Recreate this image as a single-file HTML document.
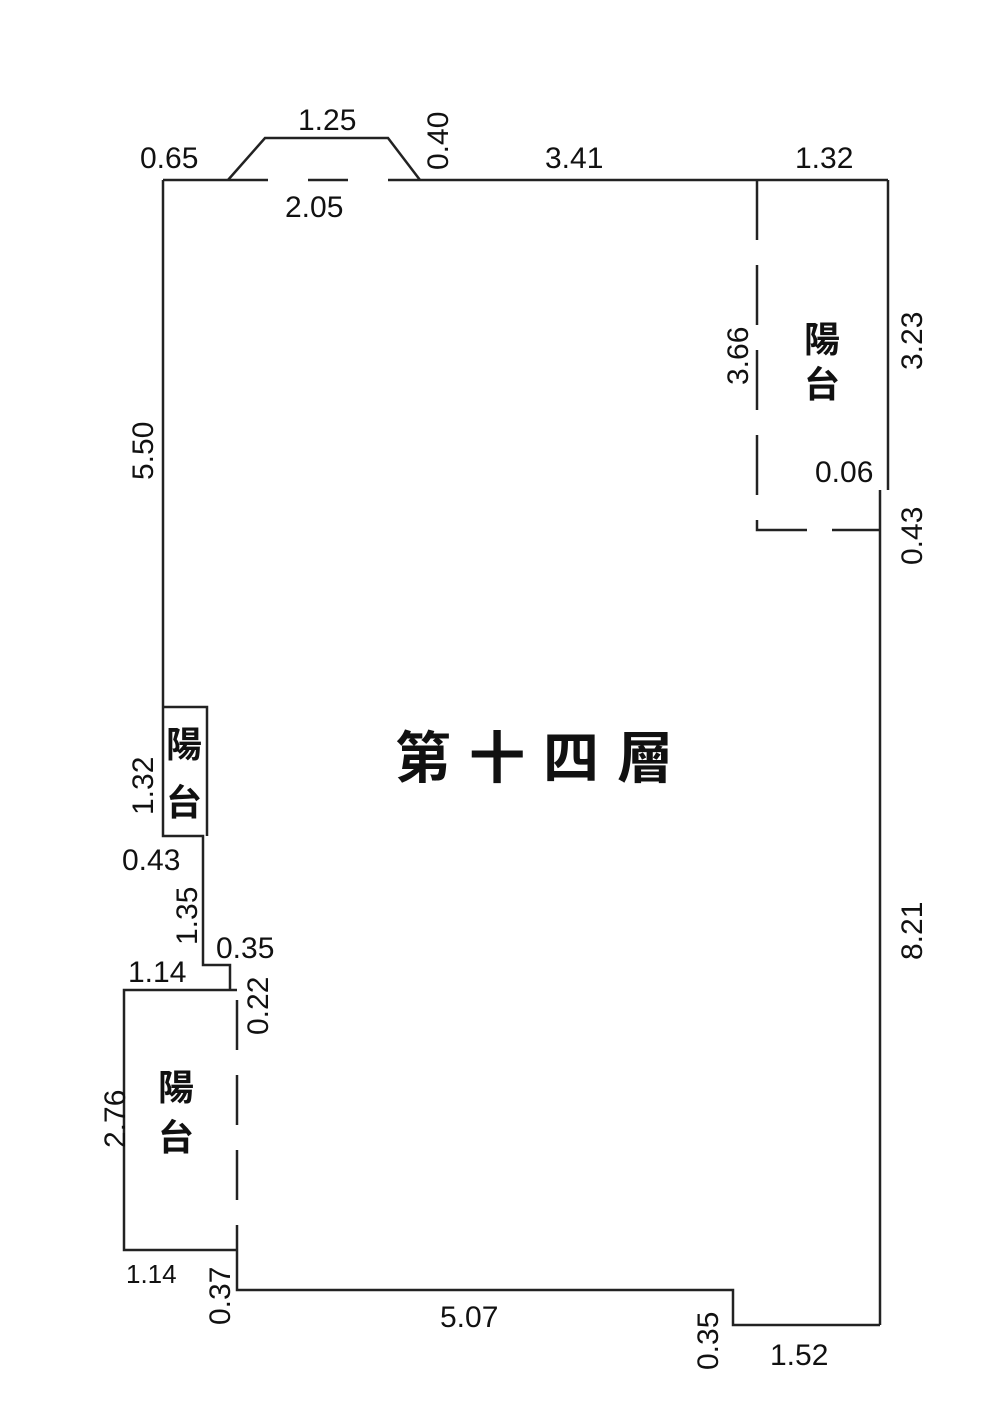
<!DOCTYPE html>
<html><head><meta charset="utf-8"><style>
html,body{margin:0;padding:0;background:#fff;}
svg{display:block}
text{font-family:"Liberation Sans","Noto Sans CJK TC",sans-serif;fill:#111;}
.c{font-family:"Noto Sans CJK TC","WenQuanYi Zen Hei",sans-serif;font-weight:bold;}
</style></head><body>
<svg width="1000" height="1427" viewBox="0 0 1000 1427" style="font-size:30px">
<g stroke="#222" stroke-width="2.5" fill="none">
<polyline points="163,180 228,180"/>
<line x1="228" y1="180" x2="420" y2="180" stroke-dasharray="40,40"/>
<line x1="420" y1="180" x2="888" y2="180"/>
<polyline points="228,180 265,138 388,138 420,180"/>
<line x1="888" y1="180" x2="888" y2="490"/>
<line x1="880" y1="490" x2="880" y2="1325"/>
<polyline points="757,180 757,530 880,530" stroke-dasharray="60,25"/>
<polyline points="880,1325 733,1325 733,1290 237,1290 237,1250"/>
<polyline points="237,990 124,990 124,1250 237,1250"/>
<line x1="237" y1="1000" x2="237" y2="1250" stroke-dasharray="50,25"/>
<polyline points="163,180 163,836 203,836 203,965 230,965 230,990"/>
<polyline points="163,707 207,707 207,836"/>
</g>
<text x="140" y="168">0.65</text>
<text x="298" y="130">1.25</text>
<text x="285" y="217">2.05</text>
<text x="545" y="168">3.41</text>
<text x="795" y="168">1.32</text>
<text x="815" y="482">0.06</text>
<text x="440" y="1327">5.07</text>
<text x="770" y="1365">1.52</text>
<text x="128" y="982">1.14</text>
<text x="126" y="1283" style="font-size:26px">1.14</text>
<text x="122" y="870">0.43</text>
<text x="216" y="958">0.35</text>
<text transform="translate(448,170) rotate(-90)">0.40</text>
<text transform="translate(153,480) rotate(-90)">5.50</text>
<text transform="translate(748,385) rotate(-90)">3.66</text>
<text transform="translate(922,370) rotate(-90)">3.23</text>
<text transform="translate(922,565) rotate(-90)">0.43</text>
<text transform="translate(922,960) rotate(-90)">8.21</text>
<text transform="translate(153,815) rotate(-90)">1.32</text>
<text transform="translate(197,945) rotate(-90)">1.35</text>
<text transform="translate(268,1035) rotate(-90)">0.22</text>
<text transform="translate(125,1148) rotate(-90)">2.76</text>
<text transform="translate(230,1325) rotate(-90)">0.37</text>
<text transform="translate(718,1370) rotate(-90)">0.35</text>
<text class="c" x="395" y="778" style="font-size:56px;letter-spacing:18px">第十四層</text>
<text class="c" x="804" y="352" style="font-size:36px">陽</text>
<text class="c" x="804" y="397" style="font-size:36px">台</text>
<text class="c" x="166" y="757" style="font-size:36px">陽</text>
<text class="c" x="166" y="815" style="font-size:36px">台</text>
<text class="c" x="158" y="1100" style="font-size:36px">陽</text>
<text class="c" x="158" y="1150" style="font-size:36px">台</text>
</svg>
</body></html>
